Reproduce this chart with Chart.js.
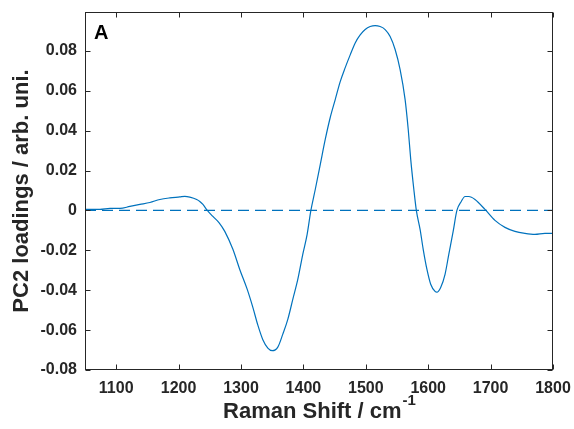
<!DOCTYPE html>
<html>
<head>
<meta charset="utf-8">
<script src="https://cdn.jsdelivr.net/npm/chart.js@4/dist/chart.umd.min.js"></script>
<style>
html,body{margin:0;padding:0;background:#fff;}
#wrap{width:574px;height:429px;position:relative;}
</style>
</head>
<body>
<div id="wrap"><canvas id="c" width="574" height="429"></canvas></div>
<script>
// Data
const ramanShift = [1050,1074,1090,1106,1122,1138,1154,1170,1186,1202,1210,1218,1229,1234,1239,1246,1255,1265,1274,1287,1298,1310,1319,1327,1335,1343,1350,1359,1367,1375,1383,1391,1399,1406,1412,1419,1427,1435,1443,1451,1459,1467,1475,1483,1491,1499,1507,1515,1523,1531,1539,1547,1555,1563,1568,1572,1577,1581,1587,1592,1598,1604,1611,1614,1620,1627,1633,1640,1646,1653,1659,1665,1675,1691,1707,1723,1739,1755,1771,1787,1800];
const pc2Loadings = [0.0005,0.0005,0.001,0.001,0.002,0.003,0.004,0.0055,0.0063,0.0068,0.0071,0.0067,0.0055,0.0045,0.003,0.0,-0.003,-0.0062,-0.0105,-0.0195,-0.0296,-0.0396,-0.0486,-0.0575,-0.0648,-0.0690,-0.0703,-0.0685,-0.062,-0.0546,-0.0446,-0.0346,-0.022,-0.012,0.0,0.0105,0.023,0.0356,0.0466,0.0556,0.0646,0.0716,0.078,0.084,0.088,0.0907,0.0922,0.0927,0.0922,0.0907,0.0872,0.0807,0.0706,0.0556,0.0406,0.0256,0.0105,0.0,-0.0095,-0.0195,-0.0296,-0.037,-0.0406,-0.041,-0.0386,-0.032,-0.022,-0.0105,0.0,0.0045,0.007,0.007,0.0055,0.0005,-0.005,-0.0085,-0.0105,-0.0115,-0.012,-0.0115,-0.0115];
const xTicks = [1100,1200,1300,1400,1500,1600,1700,1800];
const yTicks = [-0.08,-0.06,-0.04,-0.02,0,0.02,0.04,0.06,0.08];
const yTickLabels = ['-0.08','-0.06','-0.04','-0.02','0','0.02','0.04','0.06','0.08'];
const xRange = [1050,1800];
const yRange = [-0.08,0.0995];
const zeroLine = [0,0];

const axisColor = '#262626';
const lineColor = '#0072BD';
const fontFam = '"Liberation Sans", Arial, sans-serif';

const curve = ramanShift.map((x,i)=>({x:x,y:pc2Loadings[i]}));
const zero = xRange.map((x,i)=>({x:x,y:zeroLine[i]}));

const framePlugin = {
  id:'frame',
  afterDraw(chart){
    const ctx = chart.ctx;
    const a = chart.chartArea;
    const xs = chart.scales.x, ys = chart.scales.y;
    ctx.save();
    ctx.strokeStyle = axisColor;
    ctx.lineWidth = 1;
    const L = Math.round(a.left)+0.5, R = Math.round(a.right)-0.5;
    const T = Math.round(a.top)+0.5, B = Math.round(a.bottom)-0.5;
    ctx.strokeRect(L, T, R-L, B-T);
    const tl = 5;
    ctx.beginPath();
    xTicks.forEach(v=>{
      const px = Math.round(xs.getPixelForValue(v))+0.5;
      ctx.moveTo(px,B); ctx.lineTo(px,B-tl);
      ctx.moveTo(px,T); ctx.lineTo(px,T+tl);
    });
    yTicks.forEach(v=>{
      const py = Math.round(ys.getPixelForValue(v))+0.5;
      ctx.moveTo(L,py); ctx.lineTo(L+tl,py);
      ctx.moveTo(R,py); ctx.lineTo(R-tl,py);
    });
    ctx.stroke();
    // panel letter
    ctx.fillStyle = '#000';
    ctx.font = 'bold 20px ' + fontFam;
    ctx.textAlign='left'; ctx.textBaseline='alphabetic';
    ctx.fillText('A', 94, 39);
    // x title with superscript
    ctx.fillStyle = axisColor;
    const main = 'Raman Shift / cm';
    const sup = '-1';
    ctx.font = 'bold 22px ' + fontFam;
    const w1 = ctx.measureText(main).width;
    ctx.font = 'bold 15px ' + fontFam;
    const w2 = ctx.measureText(sup).width;
    const cx = (a.left+a.right)/2;
    const sx = cx - (w1+w2)/2;
    ctx.font = 'bold 22px ' + fontFam;
    ctx.fillText(main, sx, 418);
    ctx.font = 'bold 15px ' + fontFam;
    ctx.fillText(sup, sx+w1+1, 405);
    // y title
    ctx.font = 'bold 22px ' + fontFam;
    ctx.translate(28, (a.top+a.bottom)/2);
    ctx.rotate(-Math.PI/2);
    ctx.textAlign='center';
    ctx.fillText('PC2 loadings / arb. uni.', 0, 0);
    ctx.restore();
  }
};

new Chart(document.getElementById('c'), {
  type:'line',
  data:{
    datasets:[
      {data:curve, borderColor:lineColor, borderWidth:1.2, pointRadius:0, fill:false, cubicInterpolationMode:'monotone'},
      {data:zero, borderColor:lineColor, borderWidth:1.2, borderDash:[11,6], pointRadius:0, fill:false}
    ]
  },
  options:{
    responsive:false,
    animation:false,
    events:[],
    layout:{padding:{top:12,right:21,left:0,bottom:0}},
    plugins:{legend:{display:false},tooltip:{enabled:false}},
    scales:{
      x:{
        type:'linear', min:xRange[0], max:xRange[1],
        afterBuildTicks(s){ s.ticks = xTicks.map(v=>({value:v})); },
        afterFit(s){ s.height = 59; s.paddingLeft = 0; s.paddingRight = 0; },
        grid:{display:false, drawTicks:false},
        border:{display:false},
        ticks:{color:axisColor, padding:9, maxRotation:0, autoSkip:false,
          font:{family:fontFam, size:16, weight:'bold'},
          callback:(v)=>String(v)}
      },
      y:{
        type:'linear', min:yRange[0], max:yRange[1],
        afterBuildTicks(s){ s.ticks = yTicks.map(v=>({value:v})); },
        afterFit(s){ s.width = 85; s.paddingTop = 0; s.paddingBottom = 0; },
        grid:{display:false, drawTicks:false},
        border:{display:false},
        ticks:{color:axisColor, padding:8, autoSkip:false,
          font:{family:fontFam, size:16, weight:'bold'},
          callback:(v,i)=>yTickLabels[i]}
      }
    }
  },
  plugins:[framePlugin]
});
</script>
</body>
</html>
